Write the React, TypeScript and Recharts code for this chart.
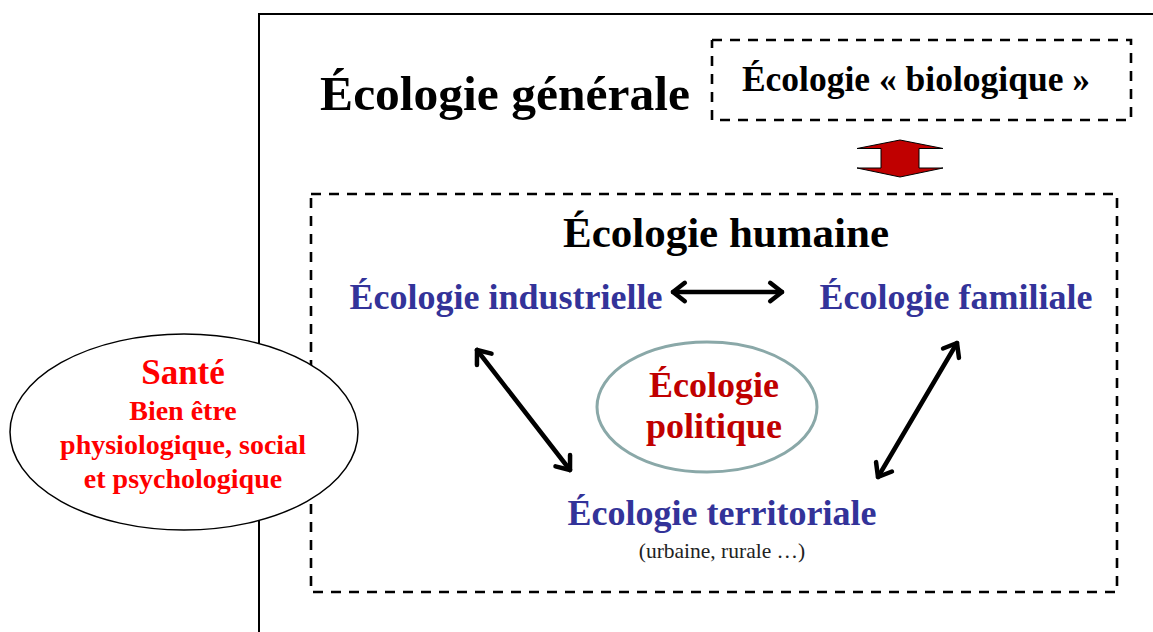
import { Scatter, ScatterChart, XAxis, YAxis } from 'recharts';

// diagram units = page pixels (x 0..1153, y 0..632 from the top)
const outerFrame = [
  { x: 1153, y: 14 },
  { x: 259, y: 14 },
  { x: 259, y: 632 },
];
const bioBox = [
  { x: 712, y: 40 },
  { x: 1131, y: 40 },
  { x: 1131, y: 120 },
  { x: 712, y: 120 },
  { x: 712, y: 40 },
];
const humaineBox = [
  { x: 311, y: 194 },
  { x: 1117, y: 194 },
  { x: 1117, y: 592 },
  { x: 311, y: 592 },
  { x: 311, y: 194 },
];
const redArrow = [{ x: 900, y: 158.5 }];
const ellipses = [
  { x: 184, y: 432, name: 'sante' },
  { x: 707, y: 407, name: 'politique' },
];
const links = [
  { from: [673, 292], to: [782, 292] },
  { from: [477, 350], to: [570, 470] },
  { from: [957, 343], to: [878, 477] },
];
const labels = [
  { x: 505, y: 110, text: 'Écologie générale', role: 'general' },
  { x: 916, y: 91, text: 'Écologie « biologique »', role: 'bio' },
  { x: 726, y: 247, text: 'Écologie humaine', role: 'humaine' },
  { x: 506, y: 309, text: 'Écologie industrielle', role: 'branch' },
  { x: 956, y: 309, text: 'Écologie familiale', role: 'branch' },
  { x: 714, y: 397, text: 'Écologie', role: 'politique' },
  { x: 714, y: 438, text: 'politique', role: 'politique' },
  { x: 722, y: 525, text: 'Écologie territoriale', role: 'branch' },
  { x: 722, y: 558, text: '(urbaine, rurale …)', role: 'note' },
  { x: 183, y: 384, text: 'Santé', role: 'sante' },
  { x: 183, y: 420, text: 'Bien être', role: 'santeSub' },
  { x: 183, y: 454, text: 'physiologique, social', role: 'santeSub' },
  { x: 183, y: 488, text: 'et psychologique', role: 'santeSub' },
];

const SERIF = '"Liberation Serif", "Times New Roman", serif';

const textStyle: Record<string, { size: number; color: string; weight: string }> = {
  general: { size: 49.5, color: '#000', weight: 'bold' },
  bio: { size: 35.5, color: '#000', weight: 'bold' },
  humaine: { size: 43, color: '#000', weight: 'bold' },
  branch: { size: 36, color: '#333399', weight: 'bold' },
  politique: { size: 36, color: '#C00000', weight: 'bold' },
  sante: { size: 35, color: '#FF0000', weight: 'bold' },
  santeSub: { size: 28, color: '#FF0000', weight: 'bold' },
  note: { size: 21.5, color: '#222', weight: 'normal' },
};

const ellipseStyle: Record<string, any> = {
  sante: { rx: 174, ry: 98, stroke: '#000', strokeWidth: 1.5 },
  politique: { rx: 110, ry: 65, stroke: '#8AA8A8', strokeWidth: 3 },
};

const Nothing = () => <g />;

function LabelShape(props: any) {
  const { cx, cy, payload } = props;
  const s = textStyle[payload.role];
  return (
    <text
      x={cx}
      y={cy}
      textAnchor="middle"
      fontFamily={SERIF}
      fontSize={s.size}
      fontWeight={s.weight}
      fill={s.color}
    >
      {payload.text}
    </text>
  );
}

function EllipseShape(props: any) {
  const { cx, cy, payload } = props;
  const s = ellipseStyle[payload.name];
  return <ellipse cx={cx} cy={cy} rx={s.rx} ry={s.ry} fill="#fff" stroke={s.stroke} strokeWidth={s.strokeWidth} />;
}

function RedArrowShape(props: any) {
  const { cx, cy } = props;
  const pts = [
    [0, -18.5], [43, -10], [19, -10], [19, 9.5], [43, 9.5], [0, 18.5],
    [-43, 9.5], [-19, 9.5], [-19, -10], [-43, -10],
  ].map(([dx, dy]) => `${cx + dx},${cy + dy}`).join(' ');
  return <polygon points={pts} fill="#C00000" stroke="#000" strokeWidth={1} />;
}

// arrow head: direction from the partner point (x and y both 1px per unit)
function HeadShape(props: any) {
  const { cx, cy, payload } = props;
  const a = Math.atan2(payload.y - payload.oy, payload.x - payload.ox);
  const len = 15;
  const spread = (38 * Math.PI) / 180;
  const p1 = [cx - len * Math.cos(a - spread), cy - len * Math.sin(a - spread)];
  const p2 = [cx - len * Math.cos(a + spread), cy - len * Math.sin(a + spread)];
  return (
    <path
      d={`M${p1[0]},${p1[1]} L${cx},${cy} L${p2[0]},${p2[1]}`}
      fill="none"
      stroke="#000"
      strokeWidth={4.5}
      strokeLinecap="round"
      strokeLinejoin="round"
    />
  );
}

export default function App() {
  const dash = { stroke: '#000', strokeWidth: 2.6, strokeDasharray: '10 8' };
  return (
    <div style={{ position: 'absolute', left: 0, top: 0, background: '#fff' }}>
      <ScatterChart width={1153} height={632} margin={{ top: 0, right: 0, bottom: 0, left: 0 }}>
        <XAxis type="number" dataKey="x" domain={[0, 1153]} hide />
        <YAxis type="number" dataKey="y" domain={[0, 632]} reversed hide />
        <Scatter data={outerFrame} line={{ stroke: '#000', strokeWidth: 2 }} shape={Nothing} isAnimationActive={false} />
        <Scatter data={bioBox} line={dash} shape={Nothing} isAnimationActive={false} />
        <Scatter data={humaineBox} line={dash} shape={Nothing} isAnimationActive={false} />
        <Scatter data={redArrow} shape={RedArrowShape} isAnimationActive={false} />
        <Scatter data={ellipses} shape={EllipseShape} isAnimationActive={false} />
        {links.map((l, i) => (
          <Scatter
            key={i}
            data={[
              { x: l.from[0], y: l.from[1], ox: l.to[0], oy: l.to[1] },
              { x: l.to[0], y: l.to[1], ox: l.from[0], oy: l.from[1] },
            ]}
            line={{ stroke: '#000', strokeWidth: 4.5, strokeLinecap: 'round' }}
            shape={HeadShape}
            isAnimationActive={false}
          />
        ))}
        <Scatter data={labels} shape={LabelShape} isAnimationActive={false} />
      </ScatterChart>
    </div>
  );
}
